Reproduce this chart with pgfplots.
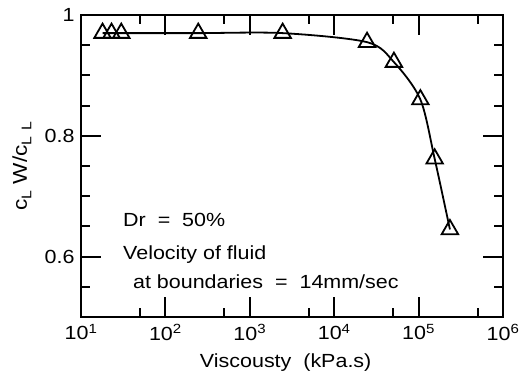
\documentclass[border=0pt]{standalone}
\usepackage{pgfplots}
\pgfplotsset{compat=1.18}
\usepackage{fontspec}
\setmainfont{Liberation Sans}[FakeStretch=1.13]
\newcommand{\sub}[1]{\raisebox{-0.22em}{\fontsize{14}{16}\selectfont #1}}
\begin{document}
\fontsize{19}{22}\selectfont
\begin{tikzpicture}
\begin{axis}[
  name=ax,
  xmode=log,
  scale only axis,
  width=422pt, height=302pt,
  xmin=10, xmax=1e6,
  ymin=0.5, ymax=1,
  xtick={10,100,1000,10000,100000,1000000},
  xticklabels={10\textsuperscript{1},10\textsuperscript{2},10\textsuperscript{3},10\textsuperscript{4},10\textsuperscript{5},10\textsuperscript{6}},
  minor xtick={50,500,5000,50000,500000},
  ytick={0.6,0.8,1},
  yticklabels={0.6,0.8,1},
  minor ytick={0.55,0.65,0.7,0.75,0.85,0.9,0.95},
  tick align=inside,
  major tick length=20pt,
  minor tick length=9pt,
  axis line style={line width=2.2pt},
  every tick/.style={black, line width=2pt},
  every minor tick/.style={black, line width=2pt},
  tick label style={font=\fontsize{19}{22}\selectfont},
  xticklabel style={yshift=-1pt},
  xlabel={Viscousty~~(kPa.s)},
  ylabel={c\sub{L}~W/c\sub{L}~\sub{L}},
  every axis x label/.style={at={(axis description cs:0.485,-0.15)}, anchor=center},
  every axis y label/.style={at={(axis description cs:-0.14,0.5)}, rotate=90, anchor=center, font=\fontsize{20}{22}\selectfont},
]
\addplot[black, line width=1.8pt, smooth, tension=0.5, mark=triangle, mark size=9.5pt, mark options={solid, fill=white, line width=1.8pt}]
  coordinates {
  (18,0.97) (23,0.97) (30,0.97) (245,0.97) (2450,0.97)
  (24500,0.955) (51000,0.922) (105000,0.86) (155000,0.762) (235000,0.645)
  };
\node[anchor=west, inner sep=0pt] at (axis description cs:0.0995,0.321) {Dr~~=~~50\%};
\node[anchor=west, inner sep=0pt] at (axis description cs:0.0995,0.205) {Velocity of fluid};
\node[anchor=west, inner sep=0pt] at (axis description cs:0.123,0.116) {at boundaries~~=~~14mm/sec};
\end{axis}
\pgfresetboundingbox
\path[use as bounding box] ([shift={(-81pt,-60pt)}]ax.south west) rectangle ([shift={(28pt,15pt)}]ax.north east);
\end{tikzpicture}
\end{document}
